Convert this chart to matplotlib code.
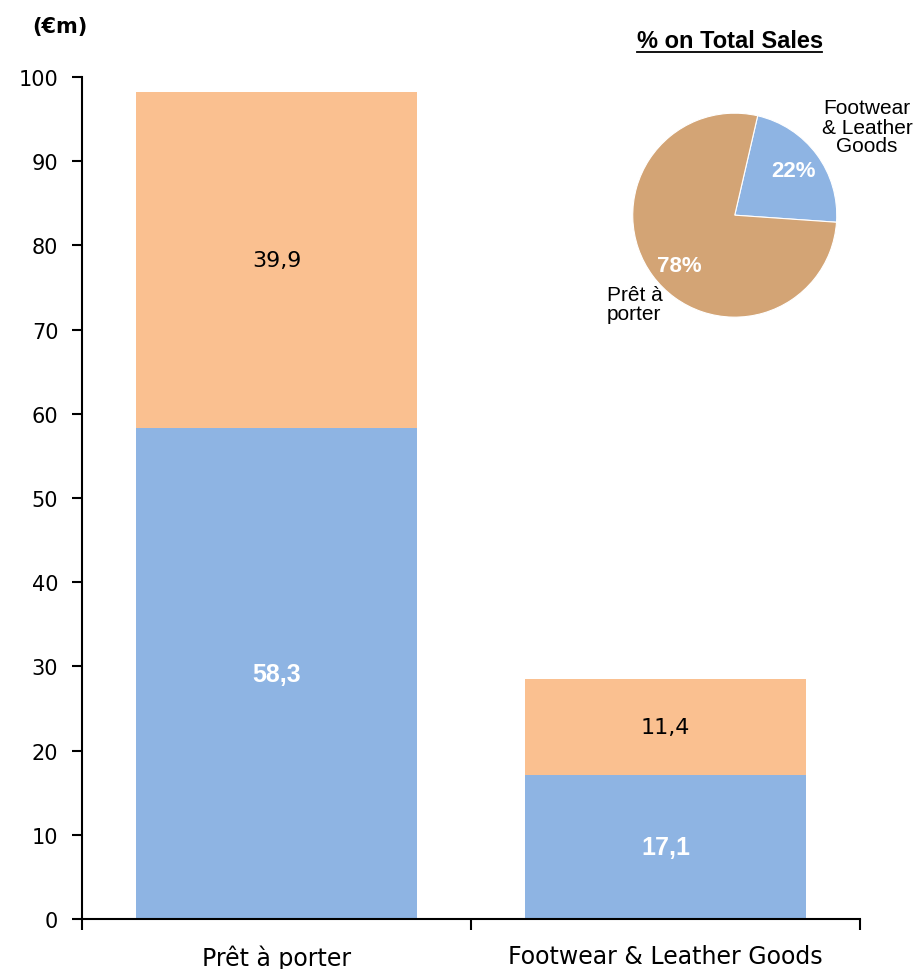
import matplotlib.pyplot as plt
from matplotlib.lines import Line2D

categories = ['Prêt à porter', 'Footwear & Leather Goods']
lower_vals = [58.3, 17.1]
upper_vals = [39.9, 11.4]
y_ticks = list(range(0, 101, 10))

pie_labels = ['Footwear\n& Leather\nGoods', 'Prêt à\nporter']

blue = '#8EB4E3'
orange = '#FAC090'
tan = '#D3A475'

plt.rcParams['font.family'] = ['Liberation Sans', 'DejaVu Sans']

fig = plt.figure(figsize=(9.17, 9.70), dpi=100)
ax = fig.add_axes([0.0894, 0.0515, 0.8484, 0.868])

x = range(len(categories))
ax.bar(x, lower_vals, width=0.72, color=blue)
ax.bar(x, upper_vals, width=0.72, bottom=lower_vals, color=orange)

def fmt(v):
    return ('%.1f' % v).replace('.', ',')

for i in x:
    ax.text(i, lower_vals[i] / 2, fmt(lower_vals[i]), ha='center', va='center',
            color='white', fontsize=18, fontweight='bold')
    ax.text(i, lower_vals[i] + upper_vals[i] / 2, fmt(upper_vals[i]), ha='center',
            va='center', color='black', fontsize=16, family='DejaVu Sans')

ax.set_xlim(-0.5, 1.5)
ax.set_ylim(0, 100)
ax.set_yticks(y_ticks)
ax.set_yticklabels([str(t) for t in y_ticks], family='DejaVu Sans', fontsize=15)
ax.set_xticks([-0.5, 0.5, 1.5])
ax.set_xticklabels([])
ax.tick_params(axis='x', direction='out', length=8, width=1.5)
ax.tick_params(axis='y', direction='out', length=7, width=1.5, pad=10)
for i, c in enumerate(categories):
    ax.text(i, -3.0, c, ha='center', va='top', fontsize=17, family='DejaVu Sans')
for s in ['top', 'right']:
    ax.spines[s].set_visible(False)
for s in ['left', 'bottom']:
    ax.spines[s].set_linewidth(1.5)

fig.text(60 / 917, 1 - 27 / 970, '(€m)', ha='center', va='center',
         fontsize=15, fontweight='bold', family='DejaVu Sans')

# share of total sales pie, from the bar totals
totals = [lo + up for lo, up in zip(lower_vals, upper_vals)]
shares = [totals[1] / sum(totals) * 100, totals[0] / sum(totals) * 100]

pax = fig.add_axes([0.690, 0.672, 0.2225, 0.2103])
pax.pie(shares, colors=[blue, tan], startangle=77, counterclock=False,
        wedgeprops=dict(linewidth=0.8, edgecolor='white'))
pax.set_xlim(-1.0, 1.0)
pax.set_ylim(-1.0, 1.0)
pax.set_aspect('equal')
pax.text(0.58, 0.44, '%.0f%%' % shares[0], ha='center', va='center',
         color='white', fontsize=16, fontweight='bold')
pax.text(-0.54, -0.49, '%.0f%%' % shares[1], ha='center', va='center',
         color='white', fontsize=16, fontweight='bold')
fig.text(867 / 917, 1 - 128 / 970, pie_labels[0], ha='center', va='center',
         fontsize=15, linespacing=1.0)
fig.text(607 / 917, 1 - 305 / 970, pie_labels[1], ha='left', va='center',
         fontsize=15, linespacing=1.0)

fig.text(730 / 917, 1 - 42 / 970, '% on Total Sales', ha='center', va='center',
         fontsize=17, fontweight='bold')
fig.add_artist(Line2D([637 / 917, 822 / 917], [1 - 53 / 970, 1 - 53 / 970],
                      color='black', linewidth=1.3, transform=fig.transFigure))

fig.savefig('out.png', dpi=100)
